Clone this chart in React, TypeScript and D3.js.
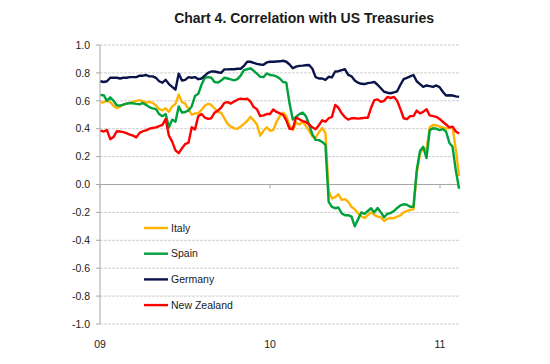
import { useEffect, useRef } from "react";
import * as d3 from "d3";

// weekly observations, first week ending 2 Jan 2009
const startDate = new Date(2009, 0, 2);

const italy = [
  0.587, 0.59, 0.6, 0.59, 0.565, 0.548, 0.558, 0.572, 0.58, 0.585,
  0.592, 0.6, 0.605, 0.598, 0.585, 0.592, 0.585, 0.568, 0.54, 0.532,
  0.546, 0.52, 0.56, 0.578, 0.645, 0.59, 0.58, 0.54, 0.5, 0.51,
  0.51, 0.535, 0.565, 0.578, 0.57, 0.545, 0.52, 0.515, 0.475, 0.435,
  0.415, 0.402, 0.4, 0.415, 0.435, 0.455, 0.485, 0.46, 0.43, 0.35,
  0.385, 0.41, 0.385, 0.39, 0.45, 0.49, 0.515, 0.49, 0.42, 0.39,
  0.445, 0.43, 0.45, 0.42, 0.385, 0.345, 0.335, 0.375, 0.405, 0.37,
  -0.05, -0.1, -0.09, -0.07, -0.11, -0.105, -0.125, -0.16, -0.178, -0.207,
  -0.228, -0.24, -0.22, -0.2, -0.218, -0.23, -0.235, -0.262, -0.245, -0.24,
  -0.242, -0.23, -0.222, -0.2, -0.19, -0.182, -0.178, 0.08, 0.22, 0.26,
  0.25, 0.41, 0.427, 0.425, 0.414, 0.41, 0.4, 0.405, 0.41, 0.25,
  0.06,
];

const spain = [
  0.642, 0.64, 0.6, 0.625, 0.6, 0.568, 0.565, 0.572, 0.58, 0.584,
  0.582, 0.578, 0.575, 0.585, 0.57, 0.555, 0.546, 0.54, 0.505, 0.49,
  0.505, 0.41, 0.465, 0.45, 0.56, 0.515, 0.52, 0.53, 0.56, 0.635,
  0.65, 0.715, 0.765, 0.77, 0.765, 0.735, 0.73, 0.745, 0.765, 0.76,
  0.753, 0.747, 0.755, 0.78, 0.82, 0.826, 0.833, 0.815, 0.795, 0.772,
  0.77, 0.796, 0.785, 0.782, 0.775, 0.76, 0.735, 0.73, 0.58, 0.465,
  0.485, 0.505, 0.515, 0.49, 0.43, 0.36, 0.32, 0.318, 0.305, 0.285,
  -0.125, -0.16, -0.17, -0.165, -0.207, -0.22, -0.22, -0.23, -0.3, -0.25,
  -0.2, -0.21, -0.19, -0.17, -0.2, -0.168, -0.2, -0.235, -0.21, -0.205,
  -0.19, -0.168, -0.15, -0.142, -0.145, -0.16, -0.16, 0.1, 0.24, 0.27,
  0.19, 0.39, 0.403, 0.4, 0.39, 0.397, 0.38, 0.3, 0.27, 0.1,
  -0.03,
];

const germany = [
  0.74, 0.735, 0.74, 0.765, 0.765, 0.765, 0.76, 0.765, 0.765, 0.77,
  0.77, 0.77, 0.78, 0.78, 0.785, 0.775, 0.775, 0.765, 0.74, 0.73,
  0.75, 0.72, 0.7, 0.68, 0.795, 0.745, 0.75, 0.77, 0.765, 0.77,
  0.755, 0.76, 0.78, 0.8, 0.81, 0.81, 0.805, 0.8, 0.825, 0.825,
  0.826, 0.826, 0.83, 0.83, 0.85, 0.88, 0.88, 0.872, 0.865, 0.86,
  0.858, 0.875, 0.88, 0.88, 0.882, 0.883, 0.887, 0.88, 0.86, 0.833,
  0.845, 0.85, 0.852, 0.855, 0.857, 0.83, 0.77, 0.76, 0.76, 0.75,
  0.772, 0.768, 0.81, 0.812, 0.82, 0.826, 0.786, 0.776, 0.745, 0.73,
  0.722, 0.72, 0.727, 0.73, 0.735, 0.715, 0.69, 0.665, 0.658, 0.654,
  0.66, 0.668, 0.715, 0.755, 0.765, 0.775, 0.785, 0.74, 0.72, 0.7,
  0.71, 0.705, 0.7, 0.71, 0.698, 0.665, 0.638, 0.64, 0.638, 0.632,
  0.628,
];

const newZealand = [
  0.386, 0.38, 0.39, 0.325, 0.34, 0.382, 0.38, 0.375, 0.368, 0.358,
  0.35, 0.338, 0.37, 0.382, 0.388, 0.4, 0.405, 0.41, 0.418, 0.428,
  0.47, 0.35, 0.307, 0.245, 0.225, 0.26, 0.29, 0.3, 0.41, 0.395,
  0.49, 0.505, 0.48, 0.47, 0.475, 0.515, 0.53, 0.55, 0.585, 0.59,
  0.58, 0.595, 0.608, 0.615, 0.612, 0.615, 0.595, 0.555, 0.54, 0.49,
  0.495, 0.505, 0.505, 0.538, 0.52, 0.51, 0.5, 0.46, 0.4, 0.4,
  0.48, 0.468, 0.455, 0.448, 0.43, 0.41, 0.396, 0.425, 0.46, 0.45,
  0.475, 0.485, 0.57, 0.55, 0.51, 0.482, 0.465, 0.475, 0.475, 0.472,
  0.475, 0.478, 0.478, 0.55, 0.605, 0.61, 0.592, 0.6, 0.628, 0.62,
  0.628, 0.6, 0.54, 0.475, 0.468, 0.49, 0.49, 0.53, 0.51, 0.52,
  0.54, 0.495, 0.49, 0.485, 0.47, 0.45, 0.43, 0.41, 0.415, 0.38,
  0.365,
];

const seriesNames = ["Italy", "Spain", "Germany", "New Zealand"];
const seriesColors = ["#FFB300", "#00A03C", "#0B1448", "#FF0000"];
const seriesValues = [italy, spain, germany, newZealand];

const yTicks = [1, 0.8, 0.6, 0.4, 0.2, 0, -0.2, -0.4, -0.6, -0.8, -1];
const xTickYears = [2009, 2010, 2011];
const xTickLabels = ["09", "10", "11"];

const font = "'Liberation Sans', Arial, sans-serif";

export default function App() {
  const svgRef = useRef<SVGSVGElement>(null);

  useEffect(() => {
    if (!svgRef.current) return;
    const svg = d3.select(svgRef.current);
    svg.selectAll("*").remove();

    const left = 100, right = 440, top = 45, bottom = 324;

    const x = d3.scaleTime()
      .domain([new Date(2009, 0, 1), new Date(2011, 0, 1)])
      .range([left, right]);
    const y = d3.scaleLinear().domain([-1, 1]).range([bottom, top]);
    const plotRight = 459;

    const dates = italy.map((_, i) => d3.timeDay.offset(startDate, i * 7));

    // title
    svg.append("text")
      .attr("x", 434).attr("y", 23)
      .attr("text-anchor", "end")
      .attr("font-family", font).attr("font-size", "14px").attr("font-weight", "700")
      .attr("fill", "#1a1a1a")
      .text("Chart 4. Correlation with US Treasuries");

    // grid lines
    svg.selectAll(".grid")
      .data(yTicks.filter((d) => d !== 0))
      .enter().append("line")
      .attr("x1", left).attr("x2", plotRight)
      .attr("y1", (d) => y(d)).attr("y2", (d) => y(d))
      .attr("stroke", "#cfcfcf").attr("stroke-width", 1).attr("stroke-dasharray", "3,1");

    // y axis
    svg.append("line")
      .attr("x1", left).attr("x2", left).attr("y1", top).attr("y2", bottom)
      .attr("stroke", "#a6a6a6").attr("stroke-width", 1);
    svg.selectAll(".ytick")
      .data(yTicks).enter().append("line")
      .attr("x1", left - 4).attr("x2", left)
      .attr("y1", (d) => y(d)).attr("y2", (d) => y(d))
      .attr("stroke", "#a6a6a6");
    svg.selectAll(".ylabel")
      .data(yTicks).enter().append("text")
      .attr("x", 90).attr("y", (d) => y(d))
      .attr("dy", "0.36em").attr("text-anchor", "end")
      .attr("font-family", font).attr("font-size", "10.5px").attr("fill", "#1a1a1a")
      .text((d) => d3.format(".1f")(d).replace("−", "-"));

    // x axis at zero
    svg.append("line")
      .attr("x1", left).attr("x2", plotRight).attr("y1", y(0)).attr("y2", y(0))
      .attr("stroke", "#a6a6a6").attr("stroke-width", 1);
    svg.selectAll(".xtick")
      .data(xTickYears).enter().append("line")
      .attr("x1", (d) => x(new Date(d, 0, 1))).attr("x2", (d) => x(new Date(d, 0, 1)))
      .attr("y1", y(0)).attr("y2", y(0) + 4)
      .attr("stroke", "#a6a6a6");
    svg.selectAll(".xlabel")
      .data(xTickYears).enter().append("text")
      .attr("x", (d) => x(new Date(d, 0, 1))).attr("y", 348)
      .attr("text-anchor", "middle")
      .attr("font-family", font).attr("font-size", "10.5px").attr("fill", "#1a1a1a")
      .text((_, i) => xTickLabels[i]);

    // series
    const line = d3.line<number>()
      .x((_, i) => x(dates[i]))
      .y((d) => y(d));
    seriesValues.forEach((vals, k) => {
      svg.append("path")
        .datum(vals)
        .attr("d", line)
        .attr("fill", "none")
        .attr("stroke", seriesColors[k])
        .attr("stroke-width", 2.4)
        .attr("stroke-linejoin", "round");
    });

    // legend
    const legend = svg.append("g").attr("transform", "translate(144,228)");
    seriesNames.forEach((name, k) => {
      legend.append("line")
        .attr("x1", 0).attr("x2", 24).attr("y1", k * 25.7).attr("y2", k * 25.7)
        .attr("stroke", seriesColors[k]).attr("stroke-width", 2.4);
      legend.append("text")
        .attr("x", 27).attr("y", k * 25.7).attr("dy", "0.36em")
        .attr("font-family", font).attr("font-size", "10.5px").attr("fill", "#1a1a1a")
        .text(name);
    });
  }, []);

  return (
    <svg
      ref={svgRef}
      width={550}
      height={364}
      style={{ position: "absolute", left: 0, top: 0, background: "#fff" }}
    />
  );
}
